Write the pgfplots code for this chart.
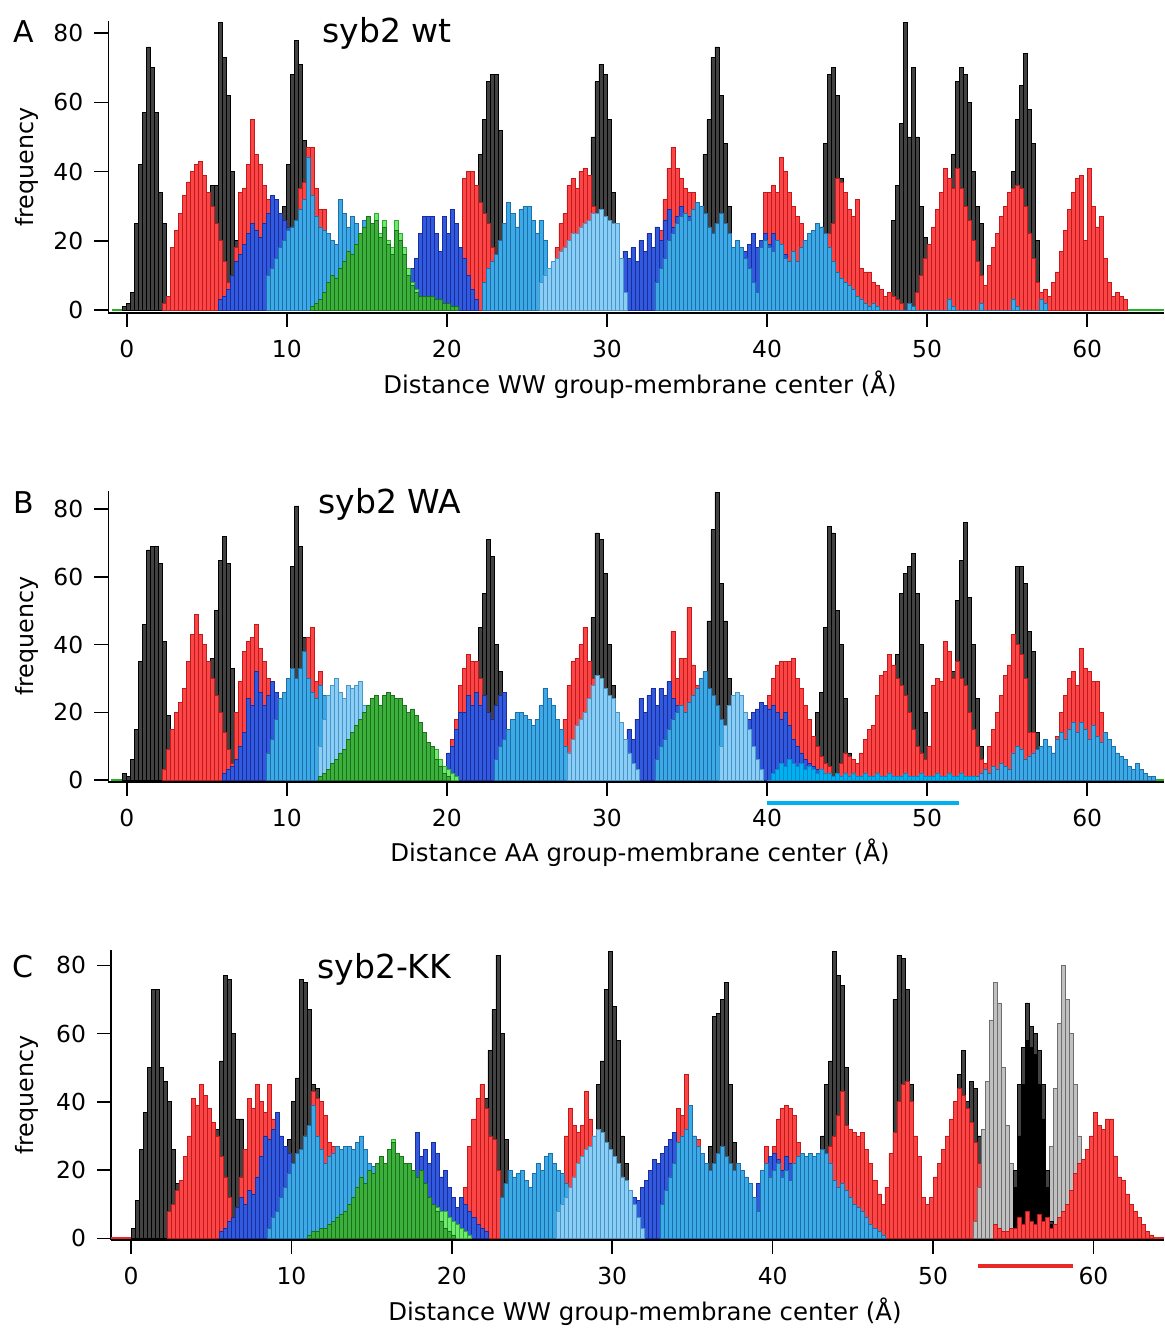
\documentclass[border=0pt]{standalone}
\usepackage{fontspec}
\setmainfont{DejaVu Sans}
\usepackage{pgfplots}
\pgfplotsset{compat=1.18}

\definecolor{kfill}{RGB}{66,66,66}
\definecolor{rfill}{RGB}{250,70,70}
\definecolor{rdraw}{RGB}{195,25,25}
\definecolor{bfill}{RGB}{50,90,220}
\definecolor{bdraw}{RGB}{25,45,160}
\definecolor{cfill}{RGB}{60,170,230}
\definecolor{cdraw}{RGB}{30,110,170}
\definecolor{lfill}{RGB}{140,205,245}
\definecolor{ldraw}{RGB}{70,150,200}
\definecolor{gfill}{RGB}{60,175,60}
\definecolor{gdraw}{RGB}{25,115,25}
\definecolor{Gfill}{RGB}{110,235,110}
\definecolor{Gdraw}{RGB}{50,170,50}
\definecolor{sfill}{RGB}{192,192,192}
\definecolor{sdraw}{RGB}{110,110,110}
\definecolor{xcyan}{RGB}{0,176,240}
\definecolor{xcdraw}{RGB}{0,140,200}
\definecolor{zgreen}{RGB}{40,175,40}
\definecolor{zred}{RGB}{235,40,40}

\pgfplotsset{
  hk/.style={ybar interval, fill=kfill, draw=black, line width=0.4pt},
  hr/.style={ybar interval, fill=rfill, draw=rdraw, line width=0.4pt},
  hb/.style={ybar interval, fill=bfill, draw=bdraw, line width=0.4pt},
  hc/.style={ybar interval, fill=cfill, draw=cdraw, line width=0.4pt},
  hl/.style={ybar interval, fill=lfill, draw=ldraw, line width=0.4pt},
  hg/.style={ybar interval, fill=gfill, draw=gdraw, line width=0.4pt},
  hG/.style={ybar interval, fill=Gfill, draw=Gdraw, line width=0.4pt},
  hs/.style={ybar interval, fill=sfill, draw=sdraw, line width=0.4pt},
  hx/.style={ybar interval, fill=xcyan, draw=xcdraw, line width=0.4pt},
  hK/.style={ybar interval, fill=black, draw=black, line width=0.4pt},
  panel/.style={
    scale only axis,
    axis x line*=bottom, axis y line*=left,
    xtick={0,10,...,60}, ytick={0,20,...,80},
    tick align=outside, major tick length=7pt,
    axis line style={-, line width=0.8pt, black},
    major tick style={line width=0.8pt, black},
    tick label style={font=\fontsize{11.7}{14}\selectfont},
    xticklabel style={yshift=-3pt},
    yticklabel style={xshift=-2pt},
    /pgf/number format/assume math mode=true,
    clip=false,
  },
}

\begin{document}
\begin{tikzpicture}
\useasboundingbox (0,0) rectangle (582pt,-664pt);

% ---------------- A ----------------
\begin{axis}[panel, at={(54.15pt,-156.4pt)}, anchor=south west,
  width=527.85pt, height=145.9pt,
  xmin=-1.15, xmax=64.8, ymin=-0.8, ymax=83.5]
\addplot[draw=zgreen, line width=1pt] coordinates {(-0.9,0)(64.8,0)};
% black
\addplot[hk] coordinates {(-0.25,1)(0,2)(0.25,5)(0.5,25)(0.75,42)(1,57)(1.25,76)(1.5,70)(1.75,57)(2,34)(2.25,25)(2.5,2)(2.75,0)};
\addplot[hk] coordinates {(4.75,3)(5,10)(5.25,36)(5.5,36)(5.75,83)(6,73)(6.25,62)(6.5,40)(6.75,20)(7,8)(7.25,3)(7.5,0)};
\addplot[hk] coordinates {(9.5,3)(9.75,30)(10,42)(10.25,68)(10.5,78)(10.75,71)(11,49)(11.25,30)(11.5,10)(11.75,3)(12,0)};
\addplot[hk] coordinates {(21.75,5)(22,45)(22.25,55)(22.5,66)(22.75,68)(23,68)(23.25,52)(23.5,22)(23.75,10)(24,0)};
\addplot[hk] coordinates {(28.5,5)(28.75,38)(29,50)(29.25,66)(29.5,71)(29.75,68)(30,55)(30.25,34)(30.5,20)(30.75,5)(31,0)};
\addplot[hk] coordinates {(35.75,8)(36,45)(36.25,55)(36.5,73)(36.75,76)(37,62)(37.25,48)(37.5,30)(37.75,12)(38,3)(38.25,0)};
\addplot[hk] coordinates {(43,8)(43.25,24)(43.5,48)(43.75,68)(44,70)(44.25,62)(44.5,38)(44.75,20)(45,5)(45.25,0)};
\addplot[hk] coordinates {(47.5,5)(47.75,26)(48,36)(48.25,54)(48.5,83)(48.75,50)(49,70)(49.25,50)(49.5,30)(49.75,21)(50,5)(50.25,0)};
\addplot[hk] coordinates {(51.25,5)(51.5,45)(51.75,66)(52,70)(52.25,68)(52.5,60)(52.75,40)(53,30)(53.25,25)(53.5,5)(53.75,0)};
\addplot[hk] coordinates {(55,10)(55.25,40)(55.5,55)(55.75,65)(56,74)(56.25,58)(56.5,48)(56.75,20)(57,5)(57.25,0)};
% red
\addplot[hr] coordinates {(2.25,2)(2.5,4)(2.75,18)(3,23)(3.25,28)(3.5,33)(3.75,37)(4,40)(4.25,42)(4.5,43)(4.75,39)(5,34)(5.25,30)(5.5,25)(5.75,20)(6,14)(6.25,8)(6.5,4)(6.75,0)};
\addplot[hr] coordinates {(6.75,18)(7,34)(7.25,35)(7.5,42)(7.75,55)(8,45)(8.25,42)(8.5,36)(8.75,32)(9,24)(9.25,18)(9.5,12)(9.75,6)(10,3)(10.25,0)};
\addplot[hr] coordinates {(10.25,20)(10.5,25)(10.75,35)(11,37)(11.25,47)(11.5,47)(11.75,35)(12,29)(12.25,29)(12.5,10)(12.75,5)(13,0)};
\addplot[hr] coordinates {(20.75,10)(21,38)(21.25,40)(21.5,40)(21.75,36)(22,31)(22.25,28)(22.5,25)(22.75,18)(23,10)(23.25,5)(23.5,0)};
\addplot[hr] coordinates {(26.5,13)(26.75,18)(27,25)(27.25,28)(27.5,36)(27.75,38)(28,35)(28.25,40)(28.5,41)(28.75,39)(29,30)(29.25,20)(29.5,10)(29.75,5)(30,0)};
\addplot[hr] coordinates {(32.75,5)(33,10)(33.25,23)(33.5,32)(33.75,41)(34,47)(34.25,41)(34.5,38)(34.75,35)(35,34)(35.25,34)(35.5,25)(35.75,15)(36,8)(36.25,4)(36.5,0)};
\addplot[hr] coordinates {(39.25,5)(39.5,15)(39.75,34)(40,34)(40.25,36)(40.5,34)(40.75,44)(41,40)(41.25,34)(41.5,30)(41.75,27)(42,25)(42.25,20)(42.5,16)(42.75,14)(43,17)(43.25,18)(43.5,20)(43.75,22)(44,25)(44.25,38)(44.5,37)(44.75,34)(45,29)(45.25,27)(45.5,32)(45.75,12)(46,11)(46.25,11)(46.5,8)(46.75,7)(47,6)(47.25,4)(47.5,5)(47.75,4)(48,3)(48.25,2)(48.5,0)};
\addplot[hr] coordinates {(49.25,5)(49.5,10)(49.75,15)(50,19)(50.25,24)(50.5,29)(50.75,34)(51,41)(51.25,38)(51.5,35)(51.75,41)(52,35)(52.25,30)(52.5,26)(52.75,20)(53,14)(53.25,10)(53.5,7)(53.75,0)};
\addplot[hr] coordinates {(53.75,13)(54,18)(54.25,22)(54.5,27)(54.75,30)(55,34)(55.25,35)(55.5,36)(55.75,35)(56,30)(56.25,22)(56.5,15)(56.75,8)(57,5)(57.25,6)(57.5,4)(57.75,0)};
\addplot[hr] coordinates {(57.75,8)(58,11)(58.25,17)(58.5,23)(58.75,29)(59,34)(59.25,38)(59.5,39)(59.75,20)(60,41)(60.25,30)(60.5,24)(60.75,27)(61,15)(61.25,8)(61.5,4)(61.75,5)(62,4)(62.25,3)(62.5,0)};
% dark blue
\addplot[hb] coordinates {(5.75,3)(6,4)(6.25,6)(6.5,10)(6.75,14)(7,16)(7.25,19)(7.5,22)(7.75,25)(8,23)(8.25,21)(8.5,25)(8.75,28)(9,33)(9.25,32)(9.5,28)(9.75,26)(10,24)(10.25,22)(10.5,18)(10.75,16)(11,14)(11.25,10)(11.5,8)(11.75,5)(12,3)(12.25,0)};
\addplot[hb] coordinates {(17.5,8)(17.75,12)(18,15)(18.25,22)(18.5,27)(18.75,27)(19,27)(19.25,22)(19.5,17)(19.75,27)(20,22)(20.25,29)(20.5,25)(20.75,18)(21,15)(21.25,10)(21.5,6)(21.75,3)(22,0)};
\addplot[hb] coordinates {(30.5,5)(30.75,10)(31,17)(31.25,15)(31.5,18)(31.75,14)(32,20)(32.25,17)(32.5,22)(32.75,18)(33,24)(33.25,20)(33.5,26)(33.75,29)(34,24)(34.25,27)(34.5,30)(34.75,28)(35,27)(35.25,25)(35.5,22)(35.75,18)(36,14)(36.25,10)(36.5,8)(36.75,5)(37,3)(37.25,0)};
\addplot[hb] coordinates {(37.25,3)(37.5,5)(37.75,8)(38,12)(38.25,14)(38.5,17)(38.75,19)(39,22)(39.25,18)(39.5,20)(39.75,22)(40,19)(40.25,22)(40.5,20)(40.75,19)(41,16)(41.25,10)(41.5,6)(41.75,3)(42,0)};
% cyan
\addplot[hc] coordinates {(8.75,10)(9,12)(9.25,15)(9.5,18)(9.75,20)(10,23)(10.25,24)(10.5,26)(10.75,29)(11,32)(11.25,44)(11.5,33)(11.75,27)(12,24)(12.25,23)(12.5,22)(12.75,20)(13,19)(13.25,32)(13.5,28)(13.75,24)(14,27)(14.25,25)(14.5,22)(14.75,26)(15,20)(15.25,17)(15.5,12)(15.75,10)(16,8)(16.25,6)(16.5,4)(16.75,3)(17,0)};
\addplot[hc] coordinates {(22.25,8)(22.5,12)(22.75,14)(23,16)(23.25,20)(23.5,25)(23.75,31)(24,28)(24.25,24)(24.5,29)(24.75,30)(25,30)(25.25,26)(25.5,22)(25.75,26)(26,20)(26.25,12)(26.5,8)(26.75,5)(27,0)};
\addplot[hc] coordinates {(33,8)(33.25,12)(33.5,15)(33.75,20)(34,22)(34.25,25)(34.5,27)(34.75,28)(35,26)(35.25,29)(35.5,31)(35.75,30)(36,28)(36.25,24)(36.5,22)(36.75,25)(37,28)(37.25,25)(37.5,22)(37.75,18)(38,20)(38.25,18)(38.5,15)(38.75,12)(39,8)(39.25,5)(39.5,0)};
\addplot[hc] coordinates {(39.5,18)(39.75,20)(40,18)(40.25,17)(40.5,20)(40.75,19)(41,15)(41.25,14)(41.5,17)(41.75,14)(42,18)(42.25,20)(42.5,22)(42.75,23)(43,25)(43.25,24)(43.5,22)(43.75,18)(44,14)(44.25,11)(44.5,9)(44.75,8)(45,7)(45.25,6)(45.5,4)(45.75,3)(46,2)(46.25,1)(46.5,0)};
\addplot[hc] coordinates {(46.5,2)(46.75,1)(47,0)(48.5,0)(48.75,2)(49,1)(49.25,0)(51,0)(51.25,3)(51.5,1)(51.75,0)(53,0)(53.25,2)(53.5,0)(55,0)(55.25,3)(55.5,1)(55.75,0)(56.75,0)(57,3)(57.25,2)(57.5,0)};
% light blue
\addplot[hl] coordinates {(25.75,8)(26,10)(26.25,12)(26.5,14)(26.75,15)(27,17)(27.25,18)(27.5,20)(27.75,22)(28,22)(28.25,24)(28.5,25)(28.75,26)(29,28)(29.25,28)(29.5,29)(29.75,27)(30,26)(30.25,25)(30.5,25)(30.75,15)(31,5)(31.25,0)};
% greens
\addplot[hG] coordinates {(14,5)(14.25,8)(14.5,12)(14.75,18)(15,22)(15.25,24)(15.5,28)(15.75,22)(16,26)(16.25,20)(16.5,18)(16.75,26)(17,22)(17.25,18)(17.5,12)(17.75,8)(18,6)(18.25,4)(18.5,3)(18.75,2)(19,0)};
\addplot[hg] coordinates {(11.5,1)(11.75,2)(12,3)(12.25,5)(12.5,8)(12.75,10)(13,9)(13.25,12)(13.5,14)(13.75,17)(14,16)(14.25,19)(14.5,22)(14.75,24)(15,27)(15.25,25)(15.5,26)(15.75,21)(16,24)(16.25,19)(16.5,16)(16.75,23)(17,20)(17.25,16)(17.5,10)(17.75,7)(18,5)(18.25,4)(18.5,4)(18.75,4)(19,4)(19.25,3)(19.5,3)(19.75,2)(20,2)(20.25,1)(20.5,1)(20.75,0)};
\end{axis}
\node[anchor=base west, inner sep=0, font=\fontsize{15}{18}\selectfont] at (6.5pt,-21pt) {A};
\node[anchor=base west, inner sep=0, font=\fontsize{16.5}{20}\selectfont] at (161pt,-21pt) {syb2 wt};
\node[rotate=90, font=\fontsize{11.9}{14}\selectfont] at (13.5pt,-83.5pt) {frequency};
\node[anchor=base, inner sep=0, font=\fontsize{12.2}{14}\selectfont] at (320pt,-196.5pt) {Distance WW group-membrane center (Å)};

% ---------------- B ----------------
\begin{axis}[panel, at={(54.15pt,-390.85pt)}, anchor=south west,
  width=527.85pt, height=145.35pt,
  xmin=-1.15, xmax=64.8, ymin=-0.5, ymax=85.4]
\addplot[draw=zgreen, line width=1pt] coordinates {(-1,0)(64.8,0)};
% black
\addplot[hk] coordinates {(-0.25,2)(0,1)(0.25,6)(0.5,15)(0.75,35)(1,46)(1.25,68)(1.5,69)(1.75,69)(2,64)(2.25,41)(2.5,19)(2.75,8)(3,0)};
\addplot[hk] coordinates {(4.75,3)(5,10)(5.25,36)(5.5,50)(5.75,65)(6,72)(6.25,64)(6.5,33)(6.75,12)(7,3)(7.25,0)};
\addplot[hk] coordinates {(9.75,5)(10,27)(10.25,63)(10.5,81)(10.75,69)(11,42)(11.25,35)(11.5,12)(11.75,4)(12,0)};
\addplot[hk] coordinates {(21.75,8)(22,45)(22.25,55)(22.5,71)(22.75,66)(23,40)(23.25,32)(23.5,10)(23.75,3)(24,0)};
\addplot[hk] coordinates {(28.75,5)(29,48)(29.25,73)(29.5,71)(29.75,61)(30,40)(30.25,28)(30.5,10)(30.75,0)};
\addplot[hk] coordinates {(35.75,5)(36,28)(36.25,47)(36.5,74)(36.75,85)(37,58)(37.25,47)(37.5,30)(37.75,15)(38,4)(38.25,0)};
\addplot[hk] coordinates {(42.75,3)(43,20)(43.25,26)(43.5,45)(43.75,75)(44,73)(44.25,50)(44.5,40)(44.75,24)(45,8)(45.25,3)(45.5,0)};
\addplot[hk] coordinates {(47.75,10)(48,37)(48.25,55)(48.5,61)(48.75,63)(49,67)(49.25,55)(49.5,40)(49.75,20)(50,5)(50.25,0)};
\addplot[hk] coordinates {(51.25,5)(51.5,32)(51.75,53)(52,65)(52.25,76)(52.5,54)(52.75,40)(53,24)(53.25,10)(53.5,3)(53.75,0)};
\addplot[hk] coordinates {(55,15)(55.25,43)(55.5,63)(55.75,63)(56,58)(56.25,44)(56.5,38)(56.75,14)(57,4)(57.25,0)};
% red
\addplot[hr] coordinates {(2.25,3)(2.5,9)(2.75,15)(3,20)(3.25,23)(3.5,27)(3.75,35)(4,43)(4.25,49)(4.5,43)(4.75,40)(5,35)(5.25,30)(5.5,25)(5.75,20)(6,14)(6.25,9)(6.5,5)(6.75,0)};
\addplot[hr] coordinates {(6.75,20)(7,29)(7.25,38)(7.5,41)(7.75,42)(8,46)(8.25,39)(8.5,35)(8.75,30)(9,22)(9.25,14)(9.5,8)(9.75,4)(10,0)};
\addplot[hr] coordinates {(10.75,30)(11,38)(11.25,42)(11.5,45)(11.75,29)(12,32)(12.25,20)(12.5,10)(12.75,5)(13,0)};
\addplot[hr] coordinates {(20,5)(20.25,12)(20.5,18)(20.75,28)(21,33)(21.25,37)(21.5,35)(21.75,35)(22,30)(22.25,25)(22.5,18)(22.75,10)(23,5)(23.25,0)};
\addplot[hr] coordinates {(27,8)(27.25,18)(27.5,28)(27.75,35)(28,36)(28.25,40)(28.5,45)(28.75,35)(29,30)(29.25,20)(29.5,10)(29.75,4)(30,0)};
\addplot[hr] coordinates {(33.5,10)(33.75,20)(34,44)(34.25,30)(34.5,36)(34.75,36)(35,51)(35.25,34)(35.5,28)(35.75,20)(36,10)(36.25,5)(36.5,0)};
\addplot[hr] coordinates {(39.5,15)(39.75,20)(40,25)(40.25,30)(40.5,34)(40.75,35)(41,35)(41.25,35)(41.5,36)(41.75,30)(42,27)(42.25,22)(42.5,18)(42.75,13)(43,10)(43.25,7)(43.5,5)(43.75,4)(44,0)};
\addplot[hr] coordinates {(44.5,5)(44.75,8)(45,7)(45.25,6)(45.5,5)(45.75,8)(46,12)(46.25,15)(46.5,16)(46.75,25)(47,31)(47.25,32)(47.5,37)(47.75,34)(48,30)(48.25,28)(48.5,25)(48.75,20)(49,15)(49.25,10)(49.5,8)(49.75,6)(50,0)};
\addplot[hr] coordinates {(50,10)(50.25,28)(50.5,30)(50.75,29)(51,41)(51.25,38)(51.5,30)(51.75,35)(52,30)(52.25,28)(52.5,20)(52.75,15)(53,10)(53.25,6)(53.5,0)};
\addplot[hr] coordinates {(53.5,5)(53.75,10)(54,15)(54.25,20)(54.5,25)(54.75,31)(55,34)(55.25,43)(55.5,40)(55.75,37)(56,30)(56.25,14)(56.5,14)(56.75,8)(57,4)(57.25,0)};
\addplot[hr] coordinates {(57.75,8)(58,13)(58.25,20)(58.5,25)(58.75,30)(59,32)(59.25,28)(59.5,39)(59.75,33)(60,32)(60.25,29)(60.5,29)(60.75,20)(61,14)(61.25,8)(61.5,4)(61.75,0)};
% dark blue
\addplot[hb] coordinates {(6,2)(6.25,3)(6.5,4)(6.75,6)(7,10)(7.25,14)(7.5,24)(7.75,22)(8,32)(8.25,26)(8.5,22)(8.75,25)(9,29)(9.25,26)(9.5,22)(9.75,20)(10,17)(10.25,15)(10.5,12)(10.75,10)(11,8)(11.25,5)(11.5,3)(11.75,0)};
\addplot[hb] coordinates {(20,8)(20.25,10)(20.5,15)(20.75,20)(21,20)(21.25,25)(21.5,22)(21.75,26)(22,22)(22.25,25)(22.5,20)(22.75,18)(23,22)(23.25,25)(23.5,26)(23.75,15)(24,6)(24.25,3)(24.5,0)};
\addplot[hb] coordinates {(30,2)(30.25,4)(30.5,6)(30.75,10)(31,8)(31.25,15)(31.5,12)(31.75,18)(32,24)(32.25,20)(32.5,25)(32.75,27)(33,22)(33.25,27)(33.5,25)(33.75,29)(34,24)(34.25,22)(34.5,20)(34.75,18)(35,15)(35.25,10)(35.5,6)(35.75,3)(36,0)};
\addplot[hb] coordinates {(36.5,2)(36.75,3)(37,4)(37.25,5)(37.5,7)(37.75,9)(38,12)(38.25,14)(38.5,17)(38.75,18)(39,20)(39.25,21)(39.5,23)(39.75,22)(40,21)(40.25,22)(40.5,20)(40.75,18)(41,20)(41.25,16)(41.5,12)(41.75,10)(42,8)(42.25,6)(42.5,5)(42.75,4)(43,3)(43.25,2)(43.5,0)};
% cyan
\addplot[hc] coordinates {(8.75,8)(9,12)(9.25,18)(9.5,24)(9.75,26)(10,30)(10.25,33)(10.5,30)(10.75,33)(11,38)(11.25,30)(11.5,26)(11.75,24)(12,28)(12.25,25)(12.5,20)(12.75,15)(13,12)(13.25,8)(13.5,5)(13.75,0)};
\addplot[hc] coordinates {(23,6)(23.25,10)(23.5,12)(23.75,15)(24,18)(24.25,20)(24.5,20)(24.75,19)(25,18)(25.25,16)(25.5,18)(25.75,22)(26,27)(26.25,24)(26.5,22)(26.75,18)(27,15)(27.25,10)(27.5,8)(27.75,6)(28,0)};
\addplot[hc] coordinates {(33,6)(33.25,10)(33.5,12)(33.75,15)(34,18)(34.25,20)(34.5,22)(34.75,20)(35,23)(35.25,25)(35.5,27)(35.75,30)(36,32)(36.25,27)(36.5,25)(36.75,22)(37,18)(37.25,15)(37.5,12)(37.75,8)(38,5)(38.25,0)};
\addplot[hc] coordinates {(53,1)(53.25,2)(53.5,3)(53.75,2)(54,4)(54.25,3)(54.5,5)(54.75,4)(55,3)(55.25,8)(55.5,10)(55.75,9)(56,6)(56.25,7)(56.5,8)(56.75,9)(57,10)(57.25,12)(57.5,10)(57.75,8)(58,12)(58.25,14)(58.5,12)(58.75,15)(59,17)(59.25,14)(59.5,17)(59.75,15)(60,12)(60.25,16)(60.5,13)(60.75,11)(61,14)(61.25,12)(61.5,10)(61.75,8)(62,7)(62.25,6)(62.5,4)(62.75,3)(63,5)(63.25,3)(63.5,2)(63.75,1)(64,1)(64.25,0)};
% light blue
\addplot[hl] coordinates {(12,10)(12.25,18)(12.5,25)(12.75,28)(13,30)(13.25,26)(13.5,24)(13.75,28)(14,27)(14.25,28)(14.5,29)(14.75,22)(15,19)(15.25,19)(15.5,19)(15.75,20)(16,17)(16.25,12)(16.5,8)(16.75,5)(17,3)(17.25,0)};
\addplot[hl] coordinates {(27.5,8)(27.75,12)(28,16)(28.25,18)(28.5,20)(28.75,24)(29,28)(29.25,31)(29.5,30)(29.75,27)(30,25)(30.25,24)(30.5,20)(30.75,17)(31,12)(31.25,8)(31.5,5)(31.75,3)(32,0)};
\addplot[hl] coordinates {(37,10)(37.25,16)(37.5,22)(37.75,25)(38,26)(38.25,25)(38.5,20)(38.75,15)(39,10)(39.25,6)(39.5,3)(39.75,0)};
% bright cyan, low
\addplot[hx] coordinates {(40,0)(40.25,2)(40.5,3)(40.75,5)(41,4)(41.25,6)(41.5,5)(41.75,4)(42,5)(42.25,3)(42.5,4)(42.75,3)(43,2)(43.25,3)(43.5,2)(43.75,2)(44,1)(44.25,2)(44.5,1)(44.75,2)(45,1)(45.25,2)(45.5,1)(45.75,1)(46,2)(46.25,1)(46.5,1)(46.75,2)(47,1)(47.25,1)(47.5,2)(47.75,1)(48,1)(48.25,1)(48.5,2)(48.75,1)(49,1)(49.25,1)(49.5,2)(49.75,1)(50,1)(50.25,1)(50.5,2)(50.75,1)(51,1)(51.25,2)(51.5,1)(51.75,1)(52,2)(52.25,1)(52.5,1)(52.75,1)(53,0)};
% greens
\addplot[hG] coordinates {(15,6)(15.25,10)(15.5,14)(15.75,18)(16,20)(16.25,18)(16.5,20)(16.75,22)(17,20)(17.25,18)(17.5,16)(17.75,15)(18,14)(18.25,12)(18.5,12)(18.75,10)(19,8)(19.25,9)(19.5,6)(19.75,4)(20,3)(20.25,2)(20.5,1)(20.75,0)};
\addplot[hg] coordinates {(12,1)(12.25,2)(12.5,3)(12.75,5)(13,6)(13.25,8)(13.5,9)(13.75,12)(14,14)(14.25,16)(14.5,18)(14.75,20)(15,22)(15.25,24)(15.5,25)(15.75,22)(16,25)(16.25,26)(16.5,25)(16.75,24)(17,24)(17.25,22)(17.5,20)(17.75,21)(18,19)(18.25,17)(18.5,14)(18.75,11)(19,10)(19.25,6)(19.5,4)(19.75,2)(20,1)(20.25,0)};
\draw[xcyan, line width=2pt] (axis cs:40,-6.8) -- (axis cs:52,-6.8);
\end{axis}
\node[anchor=base west, inner sep=0, font=\fontsize{15}{18}\selectfont] at (6.5pt,-256.5pt) {B};
\node[anchor=base west, inner sep=0, font=\fontsize{16.5}{20}\selectfont] at (159pt,-256.5pt) {syb2 WA};
\node[rotate=90, font=\fontsize{11.9}{14}\selectfont] at (13.5pt,-318pt) {frequency};
\node[anchor=base, inner sep=0, font=\fontsize{12.2}{14}\selectfont] at (320pt,-430.9pt) {Distance AA group-membrane center (Å)};

% ---------------- C ----------------
\begin{axis}[panel, at={(55.5pt,-620pt)}, anchor=south west,
  width=526.5pt, height=145pt,
  xmin=-1.25, xmax=64.4, ymin=-0.5, ymax=84.5]
\addplot[draw=zred, line width=1pt] coordinates {(-1.25,0)(64.4,0)};
% black
\addplot[hk] coordinates {(0,3)(0.25,11)(0.5,26)(0.75,37)(1,50)(1.25,73)(1.5,73)(1.75,50)(2,46)(2.25,40)(2.5,26)(2.75,16)(3,3)(3.25,0)};
\addplot[hk] coordinates {(4.75,3)(5,16)(5.25,32)(5.5,52)(5.75,77)(6,76)(6.25,60)(6.5,35)(6.75,35)(7,15)(7.25,5)(7.5,0)};
\addplot[hk] coordinates {(9.5,5)(9.75,29)(10,40)(10.25,47)(10.5,76)(10.75,75)(11,67)(11.25,45)(11.5,44)(11.75,25)(12,8)(12.25,3)(12.5,0)};
\addplot[hk] coordinates {(21.75,10)(22,41)(22.25,55)(22.5,67)(22.75,83)(23,60)(23.25,29)(23.5,18)(23.75,8)(24,3)(24.25,0)};
\addplot[hk] coordinates {(28.75,10)(29,45)(29.25,52)(29.5,73)(29.75,84)(30,68)(30.25,58)(30.5,30)(30.75,22)(31,8)(31.25,0)};
\addplot[hk] coordinates {(35.75,10)(36,27)(36.25,65)(36.5,66)(36.75,70)(37,75)(37.25,45)(37.5,28)(37.75,15)(38,5)(38.25,0)};
\addplot[hk] coordinates {(42.75,5)(43,30)(43.25,45)(43.5,52)(43.75,84)(44,77)(44.25,74)(44.5,50)(44.75,20)(45,5)(45.25,0)};
\addplot[hk] coordinates {(47.25,10)(47.5,70)(47.75,83)(48,82)(48.25,73)(48.5,45)(48.75,15)(49,3)(49.25,0)};
\addplot[hk] coordinates {(51,5)(51.25,39)(51.5,48)(51.75,55)(52,40)(52.25,46)(52.5,44)(52.75,30)(53,26)(53.25,10)(53.5,3)(53.75,0)};
% red
\addplot[hr] coordinates {(2.25,8)(2.5,10)(2.75,14)(3,17)(3.25,24)(3.5,30)(3.75,41)(4,39)(4.25,45)(4.5,42)(4.75,38)(5,34)(5.25,30)(5.5,24)(5.75,18)(6,12)(6.25,6)(6.5,3)(6.75,0)};
\addplot[hr] coordinates {(6.75,18)(7,26)(7.25,41)(7.5,38)(7.75,45)(8,40)(8.25,37)(8.5,45)(8.75,35)(9,28)(9.25,20)(9.5,12)(9.75,6)(10,0)};
\addplot[hr] coordinates {(10.75,30)(11,32)(11.25,43)(11.5,41)(11.75,40)(12,36)(12.25,28)(12.5,27)(12.75,12)(13,5)(13.25,0)};
\addplot[hr] coordinates {(20.5,8)(20.75,15)(21,27)(21.25,35)(21.5,41)(21.75,45)(22,38)(22.25,30)(22.5,29)(22.75,20)(23,12)(23.25,6)(23.5,0)};
\addplot[hr] coordinates {(26.5,10)(26.75,17)(27,30)(27.25,38)(27.5,33)(27.75,31)(28,33)(28.25,43)(28.5,35)(28.75,30)(29,20)(29.25,12)(29.5,6)(29.75,0)};
\addplot[hr] coordinates {(33.5,20)(33.75,30)(34,38)(34.25,36)(34.5,48)(34.75,38)(35,30)(35.25,29)(35.5,22)(35.75,15)(36,8)(36.25,4)(36.5,0)};
\addplot[hr] coordinates {(39,10)(39.25,20)(39.5,27)(39.75,22)(40,27)(40.25,35)(40.5,38)(40.75,39)(41,38)(41.25,36)(41.5,28)(41.75,22)(42,18)(42.25,12)(42.5,8)(42.75,5)(43,0)};
\addplot[hr] coordinates {(43.5,27)(43.75,30)(44,36)(44.25,43)(44.5,33)(44.75,32)(45,31)(45.25,30)(45.5,31)(45.75,26)(46,22)(46.25,17)(46.5,13)(46.75,10)(47,15)(47.25,25)(47.5,31)(47.75,40)(48,45)(48.25,46)(48.5,40)(48.75,30)(49,24)(49.25,12)(49.5,10)(49.75,12)(50,18)(50.25,22)(50.5,26)(50.75,30)(51,35)(51.25,40)(51.5,44)(51.75,42)(52,38)(52.25,34)(52.5,28)(52.75,22)(53,16)(53.25,10)(53.5,6)(53.75,3)(54,0)};
% dark blue
\addplot[hb] coordinates {(5.5,2)(5.75,3)(6,5)(6.25,6)(6.5,9)(6.75,12)(7,10)(7.25,14)(7.5,13)(7.75,18)(8,24)(8.25,30)(8.5,29)(8.75,32)(9,37)(9.25,30)(9.5,27)(9.75,25)(10,20)(10.25,18)(10.5,14)(10.75,12)(11,9)(11.25,7)(11.5,4)(11.75,2)(12,0)};
\addplot[hb] coordinates {(16.5,5)(16.75,8)(17,10)(17.25,14)(17.5,20)(17.75,31)(18,24)(18.25,26)(18.5,22)(18.75,28)(19,25)(19.25,18)(19.5,20)(19.75,15)(20,12)(20.25,9)(20.5,12)(20.75,10)(21,8)(21.25,6)(21.5,4)(21.75,3)(22,2)(22.25,0)};
\addplot[hb] coordinates {(30.25,3)(30.5,5)(30.75,8)(31,10)(31.25,12)(31.5,11)(31.75,15)(32,17)(32.25,20)(32.5,23)(32.75,22)(33,25)(33.25,27)(33.5,29)(33.75,31)(34,26)(34.25,24)(34.5,25)(34.75,22)(35,18)(35.25,15)(35.5,12)(35.75,8)(36,5)(36.25,3)(36.5,0)};
\addplot[hb] coordinates {(37.5,2)(37.75,3)(38,5)(38.25,8)(38.5,10)(38.75,12)(39,16)(39.25,19)(39.5,22)(39.75,24)(40,25)(40.25,23)(40.5,20)(40.75,24)(41,22)(41.25,19)(41.5,15)(41.75,12)(42,9)(42.25,6)(42.5,4)(42.75,5)(43,8)(43.25,17)(43.5,15)(43.75,12)(44,10)(44.25,8)(44.5,12)(44.75,9)(45,6)(45.25,4)(45.5,2)(45.75,0)};
% cyan
\addplot[hc] coordinates {(8.5,3)(8.75,6)(9,8)(9.25,12)(9.5,15)(9.75,19)(10,22)(10.25,25)(10.5,26)(10.75,30)(11,33)(11.25,39)(11.5,30)(11.75,26)(12,22)(12.25,24)(12.5,25)(12.75,27)(13,26)(13.25,27)(13.5,27)(13.75,26)(14,28)(14.25,30)(14.5,26)(14.75,22)(15,21)(15.25,14)(15.5,8)(15.75,5)(16,3)(16.25,0)};
\addplot[hc] coordinates {(23,12)(23.25,16)(23.5,20)(23.75,18)(24,19)(24.25,20)(24.5,17)(24.75,15)(25,19)(25.25,22)(25.5,20)(25.75,24)(26,25)(26.25,22)(26.5,20)(26.75,19)(27,16)(27.25,13)(27.5,10)(27.75,6)(28,0)};
\addplot[hc] coordinates {(33,10)(33.25,14)(33.5,18)(33.75,22)(34,28)(34.25,30)(34.5,32)(34.75,39)(35,30)(35.25,27)(35.5,25)(35.75,22)(36,20)(36.25,22)(36.5,25)(36.75,27)(37,24)(37.25,22)(37.5,20)(37.75,22)(38,20)(38.25,18)(38.5,16)(38.75,12)(39,8)(39.25,0)};
\addplot[hc] coordinates {(39.25,20)(39.5,22)(39.75,18)(40,20)(40.25,22)(40.5,18)(40.75,20)(41,17)(41.25,22)(41.5,24)(41.75,25)(42,24)(42.25,25)(42.5,24)(42.75,25)(43,26)(43.25,25)(43.5,22)(43.75,17)(44,15)(44.25,16)(44.5,14)(44.75,12)(45,10)(45.25,9)(45.5,8)(45.75,6)(46,4)(46.25,3)(46.5,2)(46.75,1)(47,0)};
% light blue
\addplot[hl] coordinates {(26.5,8)(26.75,10)(27,12)(27.25,15)(27.5,18)(27.75,22)(28,24)(28.25,26)(28.5,27)(28.75,30)(29,32)(29.25,31)(29.5,28)(29.75,26)(30,24)(30.25,22)(30.5,18)(30.75,17)(31,14)(31.25,10)(31.5,6)(31.75,3)(32,0)};
% greens
\addplot[hG] coordinates {(14.5,3)(14.75,6)(15,10)(15.25,14)(15.5,18)(15.75,20)(16,22)(16.25,29)(16.5,20)(16.75,18)(17,16)(17.25,14)(17.5,14)(17.75,13)(18,12)(18.25,13)(18.5,12)(18.75,10)(19,9)(19.25,8)(19.5,8)(19.75,6)(20,5)(20.25,4)(20.5,3)(20.75,2)(21,1)(21.25,0)};
\addplot[hg] coordinates {(11,1)(11.25,2)(11.5,2)(11.75,3)(12,3)(12.25,4)(12.5,5)(12.75,6)(13,7)(13.25,8)(13.5,10)(13.75,12)(14,15)(14.25,18)(14.5,16)(14.75,20)(15,19)(15.25,22)(15.5,24)(15.75,22)(16,26)(16.25,28)(16.5,25)(16.75,24)(17,22)(17.25,22)(17.5,20)(17.75,18)(18,20)(18.25,16)(18.5,12)(18.75,10)(19,8)(19.25,5)(19.5,3)(19.75,2)(20,1)(20.25,0)};
% grey, black and last red peaks
\addplot[hs] coordinates {(52.5,5)(52.75,15)(53,32)(53.25,46)(53.5,64)(53.75,75)(54,69)(54.25,50)(54.5,33)(54.75,22)(55,10)(55.25,3)(55.5,0)};
\addplot[hs] coordinates {(57,6)(57.25,27)(57.5,44)(57.75,63)(58,80)(58.25,70)(58.5,60)(58.75,45)(59,30)(59.25,10)(59.5,3)(59.75,0)};
\addplot[hk] coordinates {(55,20)(55.25,45)(55.5,56)(55.75,69)(56,62)(56.25,60)(56.5,55)(56.75,45)(57,20)(57.25,5)(57.5,0)};
\addplot[hK] coordinates {(54.75,3)(55,15)(55.25,30)(55.5,45)(55.75,58)(56,56)(56.25,54)(56.5,45)(56.75,35)(57,15)(57.25,4)(57.5,0)};
\addplot[hr] coordinates {(53.75,4)(54,3)(54.25,2)(54.5,2)(54.75,3)(55,3)(55.25,6)(55.5,4)(55.75,8)(56,5)(56.25,4)(56.5,7)(56.75,5)(57,6)(57.25,3)(57.5,0)};
\addplot[hr] coordinates {(57.5,4)(57.75,6)(58,8)(58.25,10)(58.5,14)(58.75,19)(59,22)(59.25,23)(59.5,26)(59.75,30)(60,37)(60.25,33)(60.5,32)(60.75,35)(61,35)(61.25,24)(61.5,18)(61.75,17)(62,13)(62.25,10)(62.5,8)(62.75,6)(63,4)(63.25,2)(63.5,1)(63.75,0)};
\draw[zred, line width=2pt] (axis cs:52.8,-8.1) -- (axis cs:58.7,-8.1);
\end{axis}
\node[anchor=base west, inner sep=0, font=\fontsize{15}{18}\selectfont] at (6pt,-488.5pt) {C};
\node[anchor=base west, inner sep=0, font=\fontsize{16.5}{20}\selectfont] at (158.5pt,-489pt) {syb2-KK};
\node[rotate=90, font=\fontsize{11.9}{14}\selectfont] at (13.5pt,-547.5pt) {frequency};
\node[anchor=base, inner sep=0, font=\fontsize{12.2}{14}\selectfont] at (322.5pt,-660pt) {Distance WW group-membrane center (Å)};
\end{tikzpicture}
\end{document}
